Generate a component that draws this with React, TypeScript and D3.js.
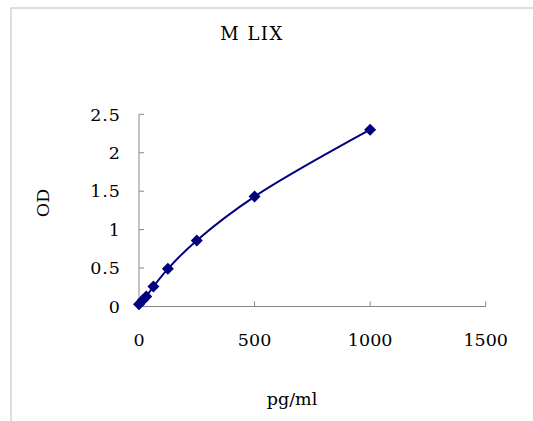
import React from "react";
import * as d3 from "d3";

const concentrations = [0, 15.625, 31.25, 62.5, 125, 250, 500, 1000];
const odValues = [0.03, 0.08, 0.13, 0.26, 0.49, 0.86, 1.43, 2.3];
const xTicks = [0, 500, 1000, 1500];
const yTicks = [0, 0.5, 1, 1.5, 2, 2.5];
const title = "M LIX";
const xLabel = "pg/ml";
const yLabel = "OD";

const W = 533;
const H = 421;
const FONT = "'DejaVu Serif', 'Liberation Serif', serif";
const NAVY = "#000080";
const AXIS = "#868686";

export default function App() {
  const x = d3.scaleLinear().domain([0, 1500]).range([139, 485.7]);
  const y = d3.scaleLinear().domain([0, 2.5]).range([306.5, 114.3]);
  const pts = concentrations.map((c, i) => [x(c), y(odValues[i])] as [number, number]);
  const line = d3.line().curve(d3.curveCatmullRom.alpha(0.5))(pts) || "";
  const diamond = d3.symbol().type(d3.symbolSquare).size(72)() || "";

  return (
    <svg
      width={W}
      height={H}
      style={{ position: "absolute", left: 0, top: 0, background: "#fff" }}
    >
      <rect x={11} y={8} width={W + 20} height={H + 20} fill="#fff" stroke="#bdbdbd" strokeWidth={1} />
      <text x={252} y={40} textAnchor="middle" fontFamily={FONT} fontSize={18} letterSpacing={1.5}>
        {title}
      </text>
      {/* y axis */}
      <line x1={x(0)} x2={x(0)} y1={y(2.5)} y2={y(0)} stroke={AXIS} strokeWidth={1} />
      {yTicks.map((t) => (
        <g key={"y" + t}>
          <line x1={x(0)} x2={x(0) + 5} y1={y(t)} y2={y(t)} stroke={AXIS} strokeWidth={1} />
          <text
            x={121}
            y={y(t)}
            dy="0.36em"
            textAnchor="end"
            fontFamily={FONT}
            fontSize={17.5}
            letterSpacing={1}
          >
            {String(t)}
          </text>
        </g>
      ))}
      {/* x axis */}
      <line x1={x(0)} x2={x(1500)} y1={y(0)} y2={y(0)} stroke={AXIS} strokeWidth={1} />
      {xTicks.map((t) => (
        <g key={"x" + t}>
          <line x1={x(t)} x2={x(t)} y1={y(0)} y2={y(0) - 5} stroke={AXIS} strokeWidth={1} />
          <text
            x={x(t)}
            y={346}
            textAnchor="middle"
            fontFamily={FONT}
            fontSize={17.5}
          >
            {String(t)}
          </text>
        </g>
      ))}
      <text x={292} y={405} textAnchor="middle" fontFamily={FONT} fontSize={17.5}>
        {xLabel}
      </text>
      <text
        transform={`translate(49,203) rotate(-90)`}
        textAnchor="middle"
        fontFamily={FONT}
        fontSize={17.5}
      >
        {yLabel}
      </text>
      <path d={line} fill="none" stroke={NAVY} strokeWidth={2} />
      {pts.map((p, i) => (
        <path key={i} d={diamond} transform={`translate(${p[0]},${p[1]}) rotate(45)`} fill={NAVY} />
      ))}
    </svg>
  );
}
